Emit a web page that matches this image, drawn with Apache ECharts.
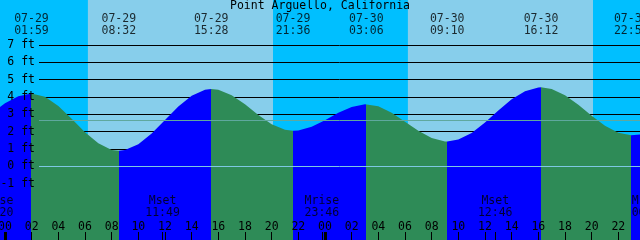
<!DOCTYPE html>
<html><head><meta charset="utf-8">
<script src="https://cdn.jsdelivr.net/npm/echarts@6/dist/echarts.min.js"></script>
<style>html,body{margin:0;padding:0;background:#00BFFF}#c{width:640px;height:240px}</style>
</head><body><div id="c"></div>
<script>
// ---- data (hours counted from 07-29 00:00 local) ----
const chartTitle = 'Point Arguello, California';
const hours = [-1,0,1,2,3,4,5,6,7,8,9,10,11,12,13,14,15,16,17,18,19,20,21,22,23,24,
  25,26,27,28,29,30,31,32,33,34,35,36,37,38,39,40,41,42,43,44,45,46,47,48];
const tideFt = [3.06,3.64,4.05,4.20,4.01,3.49,2.75,1.97,1.33,0.95,0.94,1.28,1.90,2.68,3.46,4.08,4.42,4.42,4.11,3.58,2.97,2.43,2.11,2.07,2.28,2.66,
  3.09,3.43,3.58,3.47,3.10,2.58,2.05,1.63,1.44,1.55,1.93,2.53,3.22,3.87,4.34,4.55,4.47,4.10,3.55,2.92,2.34,1.94,1.80,1.86];
const extremeHours = [1.983, 8.533, 15.467, 21.6, 27.1, 33.167, 40.2, 46.967];
const extremeFt = [4.2, 0.9, 4.46, 2.05, 3.58, 1.44, 4.56, 1.8];
const extremeKinds = ['H','L','H','L','H','L','H','L'];
const extremeDates = ['07-29','07-29','07-29','07-29','07-30','07-30','07-30','07-30'];
const extremeTimes = ['01:59','08:32','15:28','21:36','03:06','09:10','16:12','22:58'];
const sunriseHours = [6.217, 30.217];
const sunsetHours = [20.1, 44.1];
const moonHours = [-0.667, 11.817, 23.767, 36.767, 48.3];
const moonEvents = ['Mrise','Mset','Mrise','Mset','Mrise'];
const moonTimes = ['23:20','11:49','23:46','12:46','00:18'];
const tickHours = [0,2,4,6,8,10,12,14,16,18,20,22,24,26,28,30,32,34,36,38,40,42,44,46];
const midnightHours = [0, 24];
const levelMinFt = -1, levelMaxFt = 7;
const meanLevelFt = 2.67;
const datumFt = 0;

// ---- view ----
const FONT = '"DejaVu Sans Mono", monospace';
const FS = 11.5;
const W = 640, H = 240;
const xMin = -0.375, xMax = 47.625;
const yMin = -4.25, yMax = 9.6;
const pxPerFt = H / (yMax - yMin);
const g1Top = (yMax - levelMaxFt) * pxPerFt;
const g1Bottom = H - (yMax - levelMinFt) * pxPerFt;

const pts = hours.map((h, i) => [h, tideFt[i]])
  .concat(extremeHours.map((h, i) => [h, extremeFt[i]]))
  .sort((a, b) => a[0] - b[0]);

const RISE = '#0000FF', FALL = '#2E8B57';
const pieces = [];
let prev = null;
extremeHours.forEach((h, i) => {
  const color = extremeKinds[i] === 'H' ? RISE : FALL;
  const p = { lt: h, color };
  if (prev !== null) p.gte = prev;
  pieces.push(p);
  prev = h;
});
pieces.push({ gte: prev, color: extremeKinds[extremeKinds.length - 1] === 'H' ? FALL : RISE });

const pad = v => String(((v % 24) + 24) % 24).padStart(2, '0');
const txt = { fontFamily: FONT, fontSize: FS, color: '#000', fontWeight: 'normal' };
const tickAxis = (values, width, label) => ({
  gridIndex: 0, type: 'value', min: xMin, max: xMax, position: 'bottom', z: 6,
  axisLine: { show: false, onZero: false }, splitLine: { show: false },
  axisTick: { show: true, inside: true, length: 8, customValues: values, lineStyle: { color: '#000', width } },
  axisLabel: label ? Object.assign({ show: true, inside: true, margin: 7, customValues: values, formatter: v => pad(v) }, txt)
                   : { show: false }
});

const chart = echarts.init(document.getElementById('c'), null, { renderer: 'canvas' });
chart.setOption({
  backgroundColor: '#00BFFF',
  animation: false,
  title: { text: chartTitle, left: 'center', top: 0, padding: 0,
    textStyle: Object.assign({ lineHeight: 12 }, txt) },
  grid: [
    { left: 0, right: 0, top: 0, bottom: 0, containLabel: false, outerBoundsMode: 'none' },
    { left: 39, right: 0, top: g1Top, bottom: g1Bottom, containLabel: false, outerBoundsMode: 'none' }
  ],
  visualMap: { type: 'piecewise', show: false, dimension: 0, seriesIndex: 0, pieces },
  xAxis: [
    tickAxis(tickHours, 1, true),
    tickAxis(midnightHours, 3, false),
    tickAxis(moonHours, 1, false),
    { gridIndex: 1, type: 'value', min: 0, max: 1, show: false, axisLine: { onZero: false } }
  ],
  yAxis: [
    { gridIndex: 0, type: 'value', min: yMin, max: yMax, show: false },
    { gridIndex: 0, type: 'value', min: 0, max: 1, show: false },
    { gridIndex: 1, type: 'value', min: levelMinFt, max: levelMaxFt, interval: 1, position: 'left', z: 2,
      axisLine: { show: false, onZero: false }, axisTick: { show: false }, axisLabel: { show: false },
      splitLine: { show: true, lineStyle: { color: '#000', width: 1 } } },
    { gridIndex: 1, type: 'value', min: levelMinFt, max: levelMaxFt, interval: 1, position: 'left', z: 5,
      axisLine: { show: false, onZero: false }, axisTick: { show: false }, splitLine: { show: false },
      axisLabel: Object.assign({ margin: 4, formatter: v => v + ' ft' }, txt) }
  ],
  series: [
    { type: 'line', xAxisIndex: 0, yAxisIndex: 0, data: pts, symbol: 'none', showSymbol: false, silent: true, z: 3,
      lineStyle: { width: 0 }, areaStyle: { opacity: 1, origin: 'start' },
      markArea: { silent: true, z: 1, itemStyle: { color: '#87CEEB', opacity: 1 },
        data: sunriseHours.map((s, i) => [{ xAxis: s }, { xAxis: sunsetHours[i] }]) } },
    { type: 'line', xAxisIndex: 3, yAxisIndex: 2, data: [], silent: true, z: 4,
      markLine: { silent: true, symbol: 'none', z: 4, label: { show: false },
        data: [
          { yAxis: datumFt, lineStyle: { color: '#7EC8E3', width: 1, type: 'solid' } },
          { yAxis: meanLevelFt, lineStyle: { color: '#5FA89E', width: 1, type: 'solid' } }
        ] } },
    { type: 'scatter', xAxisIndex: 0, yAxisIndex: 1, clip: false, silent: true, z: 6,
      symbolSize: 1, itemStyle: { color: 'transparent' },
      data: extremeHours.map(h => [h, 1]),
      label: Object.assign({ show: true, position: 'bottom', distance: 12.5, lineHeight: 12, align: 'center',
        formatter: p => extremeDates[p.dataIndex] + '\n' + extremeTimes[p.dataIndex] }, txt) },
    { type: 'scatter', xAxisIndex: 0, yAxisIndex: 1, clip: false, silent: true, z: 6,
      symbolSize: 1, itemStyle: { color: 'transparent' },
      data: moonHours.map(h => [h, 0]),
      label: Object.assign({ show: true, position: 'top', distance: 20, lineHeight: 12, align: 'center',
        formatter: p => moonEvents[p.dataIndex] + '\n' + moonTimes[p.dataIndex] }, txt) }
  ]
});
</script></body></html>
